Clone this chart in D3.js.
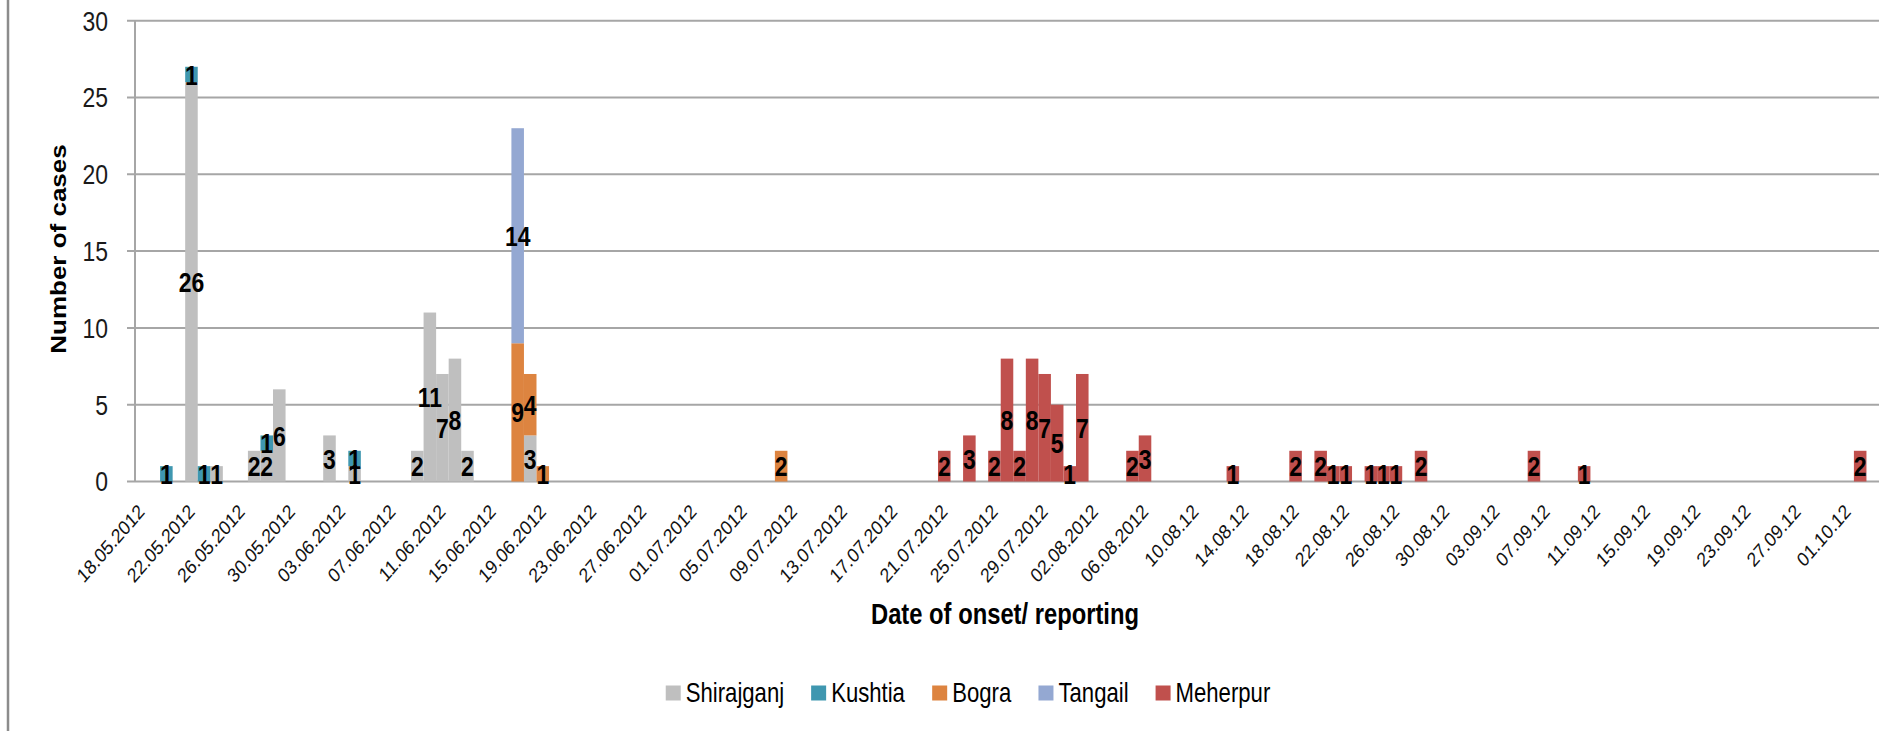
<!DOCTYPE html>
<html lang="en">
<head>
  <meta charset="UTF-8">
  <title>Cases by date of onset</title>
  <style>
    body {
      margin: 0;
      padding: 0;
      background: #ffffff;
    }

    svg {
      display: block;
      font-family: "Liberation Sans", Arial, sans-serif;
    }

    .grid line {
      stroke: #a6a6a6;
      stroke-width: 2px;
    }

    .value-label {
      font-size: 28px;
      font-weight: bold;
      fill: #000;
      text-anchor: middle;
    }

    .y-tick {
      font-size: 28px;
      fill: #1a1a1a;
      text-anchor: end;
    }

    .x-tick {
      font-size: 20px;
      fill: #111;
      text-anchor: end;
    }

    .axis-title {
      font-weight: bold;
      fill: #000;
    }

    .legend text {
      font-size: 27px;
      fill: #000;
    }
  </style>
</head>
<body>
  <svg width="1902" height="731"></svg>

  <script src="https://d3js.org/d3.v7.min.js"></script>
  <script>
    // districts, bottom of the stack first
    const districts = ["Shirajganj", "Kushtia", "Bogra", "Tangail", "Meherpur"];
    const colors = ["#bfbfbf", "#3f97b0", "#dd8440", "#94a8d2", "#c0504d"];

    // cases per day (dd.mm)
    const shirajganj = [
      ["22.05", 26], ["24.05", 1], ["27.05", 2], ["28.05", 2], ["29.05", 6],
      ["02.06", 3], ["04.06", 1], ["09.06", 2], ["10.06", 11], ["11.06", 7],
      ["12.06", 8], ["13.06", 2], ["18.06", 3]
    ];
    const kushtia = [
      ["20.05", 1], ["22.05", 1], ["23.05", 1], ["28.05", 1], ["04.06", 1]
    ];
    const bogra = [
      ["17.06", 9], ["18.06", 4], ["19.06", 1], ["08.07", 2]
    ];
    const tangail = [
      ["17.06", 14]
    ];
    const meherpur = [
      ["21.07", 2], ["23.07", 3], ["25.07", 2], ["26.07", 8], ["27.07", 2],
      ["28.07", 8], ["29.07", 7], ["30.07", 5], ["31.07", 1], ["01.08", 7],
      ["05.08", 2], ["06.08", 3], ["13.08", 1], ["18.08", 2], ["20.08", 2],
      ["21.08", 1], ["22.08", 1], ["24.08", 1], ["25.08", 1], ["26.08", 1],
      ["28.08", 2], ["06.09", 2], ["10.09", 1], ["02.10", 2]
    ];
    const seriesValues = [shirajganj, kushtia, bogra, tangail, meherpur];

    // one category per day, 18.05.2012 - 03.10.2012
    const fmt = d3.timeFormat("%d.%m");
    const days = d3.timeDay.range(new Date(2012, 4, 18), new Date(2012, 9, 4)).map(fmt);

    // every 4th day is labelled
    const tickLabels = [
      "18.05.2012", "22.05.2012", "26.05.2012", "30.05.2012", "03.06.2012",
      "07.06.2012", "11.06.2012", "15.06.2012", "19.06.2012", "23.06.2012",
      "27.06.2012", "01.07.2012", "05.07.2012", "09.07.2012", "13.07.2012",
      "17.07.2012", "21.07.2012", "25.07.2012", "29.07.2012", "02.08.2012",
      "06.08.2012", "10.08.12", "14.08.12", "18.08.12", "22.08.12",
      "26.08.12", "30.08.12", "03.09.12", "07.09.12", "11.09.12",
      "15.09.12", "19.09.12", "23.09.12", "27.09.12", "01.10.12"
    ];
    const yTicks = [0, 5, 10, 15, 20, 25, 30];

    // table for d3.stack
    const rows = days.map(day => {
      const row = { day: day };
      districts.forEach((name, i) => {
        const hit = seriesValues[i].find(p => p[0] === day);
        row[name] = hit ? hit[1] : 0;
      });
      return row;
    });

    const svg = d3.select("svg");
    const plotLeft = 135, plotRight = 1879, plotTop = 20.7, plotBottom = 481.5;
    const squeeze = 0.82; // the original text is narrow (Calibri, squashed)

    const x = d3.scaleBand().domain(days).range([plotLeft, plotRight]).padding(0);
    const y = d3.scaleLinear().domain([0, 30]).range([plotBottom, plotTop]);

    // chart frame edge on the left
    svg.append("line")
      .attr("x1", 8).attr("x2", 8).attr("y1", 0).attr("y2", 731)
      .attr("stroke", "#8c8c8c").attr("stroke-width", 2.5);

    // gridlines + y ticks
    const grid = svg.append("g").attr("class", "grid");
    grid.selectAll("line.h")
      .data(yTicks)
      .enter()
      .append("line")
      .attr("class", "h")
      .attr("x1", plotLeft - 8)
      .attr("x2", plotRight)
      .attr("y1", d => y(d))
      .attr("y2", d => y(d));
    grid.append("line")
      .attr("x1", plotLeft).attr("x2", plotLeft)
      .attr("y1", y(30)).attr("y2", y(0));

    svg.append("g")
      .selectAll("text")
      .data(yTicks)
      .enter()
      .append("text")
      .attr("class", "y-tick")
      .attr("transform", d => `translate(108,${y(d)}) scale(${squeeze},1)`)
      .attr("dy", "0.35em")
      .text(d => d);

    // stacked bars
    const stacked = d3.stack().keys(districts)(rows);

    const layer = svg.append("g")
      .selectAll("g")
      .data(stacked)
      .enter()
      .append("g")
      .attr("fill", (d, i) => colors[i]);

    layer.selectAll("rect")
      .data(d => d.filter(s => s[1] - s[0] > 0))
      .enter()
      .append("rect")
      .attr("x", d => x(d.data.day))
      .attr("width", x.bandwidth())
      .attr("y", d => y(d[1]))
      .attr("height", d => y(d[0]) - y(d[1]));

    // value labels, centred on each segment
    const labels = svg.append("g");
    stacked.forEach(s => {
      labels.selectAll(null)
        .data(s.filter(d => d[1] - d[0] > 0))
        .enter()
        .append("text")
        .attr("class", "value-label")
        .attr("transform", d => {
          const cx = x(d.data.day) + x.bandwidth() / 2;
          return `translate(${cx},${y((d[0] + d[1]) / 2)}) scale(${squeeze},1)`;
        })
        .attr("dy", "0.36em")
        .text(d => d[1] - d[0]);
    });

    // x tick labels (rotated)
    svg.append("g")
      .selectAll("text")
      .data(tickLabels)
      .enter()
      .append("text")
      .attr("class", "x-tick")
      .attr("transform", (d, i) => {
        const cx = x(days[i * 4]) + x.bandwidth() / 2;
        return `translate(${cx},508) scale(0.87,1) rotate(-45)`;
      })
      .attr("dy", "0.35em")
      .text(d => d);

    // axis titles
    svg.append("text")
      .attr("class", "axis-title")
      .attr("transform", `translate(1005,624) scale(${squeeze},1)`)
      .attr("text-anchor", "middle")
      .style("font-size", "29px")
      .text("Date of onset/ reporting");

    svg.append("text")
      .attr("class", "axis-title")
      .attr("transform", "translate(58,249) scale(0.85,1) rotate(-90)")
      .attr("dy", "0.35em")
      .attr("text-anchor", "middle")
      .style("font-size", "26px")
      .text("Number of cases");

    // legend
    const legend = svg.append("g").attr("class", "legend");
    const items = legend.selectAll("g")
      .data(districts)
      .enter()
      .append("g");
    items.append("rect")
      .attr("width", 15)
      .attr("height", 15)
      .attr("y", -7.5)
      .attr("fill", (d, i) => colors[i]);
    items.append("text")
      .attr("transform", `translate(20,0) scale(${squeeze},1)`)
      .attr("dy", "0.35em")
      .text(d => d);

    let pos = 0;
    const gap = 27;
    const offsets = [];
    items.each(function () {
      offsets.push(pos);
      pos += this.getBBox().width + gap;
    });
    const total = pos - gap;
    const start = 968 - total / 2;
    items.attr("transform", (d, i) => `translate(${start + offsets[i]},693)`);
  </script>
</body>
</html>
